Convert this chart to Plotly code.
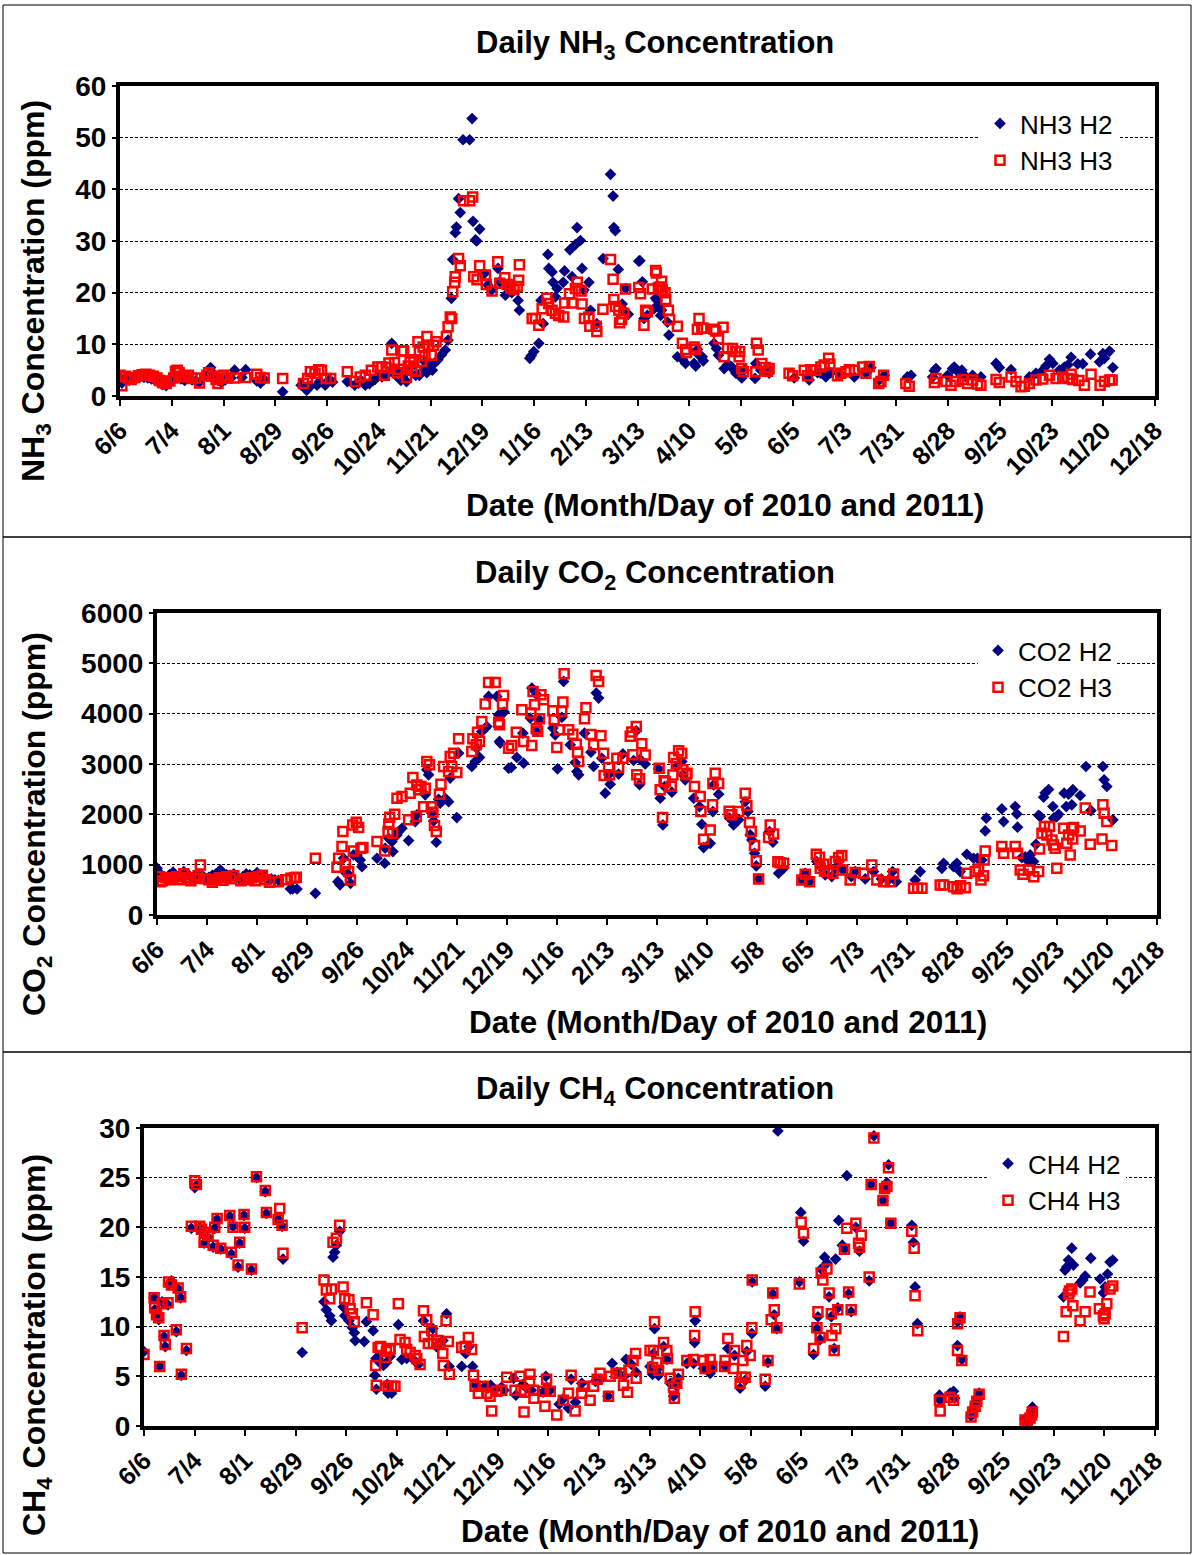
import pandas as pd
import plotly.graph_objects as go

W, H = 1193, 1555
START = "2010-06-06"
END = "2011-12-18"
FONT = "Liberation Sans, Arial, sans-serif"

# ---------------- data: (day offset from 6/6/2010, value) ----------------
NH3_H2 = [
    (0, 3.5), (1, 2.5), (3, 3.3), (5, 3.0), (7, 3.2), (9, 3.4), (11, 3.8), (13, 3.6), (15, 3.5), (17, 3.3),
    (19, 3.0), (21, 2.6), (23, 2.2), (25, 2.0), (27, 2.8), (29, 3.5), (31, 3.8), (33, 3.3), (35, 3.0), (37, 3.4),
    (39, 3.1), (41, 2.9), (43, 2.7), (47, 3.8), (49, 5.5), (51, 4.2), (53, 3.0), (55, 2.6), (57, 3.1), (60, 3.5),
    (62, 5.0), (66, 3.6), (68, 5.1), (74, 2.9), (76, 2.5), (78, 3.2), (88, 0.8), (98, 2.1), (101, 1.1), (103, 1.9),
    (106.6, 2.1), (108, 2.8), (111, 2.1), (113, 3.1), (115, 2.7), (123, 2.8), (127, 2.1), (129, 2.5), (131, 2.8),
    (132.7, 2.1), (135, 2.4), (137, 3.0), (138, 3.2), (140, 4.0),
    (141.7, 3.7), (144, 4.0), (147, 10.2), (148, 5.2), (149, 4.1), (150, 5.0), (152, 3.0), (153, 3.7), (155, 2.8),
    (156, 5.0), (158, 5.7), (160, 4.0), (162, 4.0), (164, 5.0), (165, 6.6), (166, 4.5), (167, 5.7), (168, 6.3),
    (169, 5.0), (170, 6.3), (172, 7.0), (174, 8.0),
    (176, 8.9), (177.5, 10.8), (179.3, 18.9), (180, 26.4), (181.4, 31.6), (182, 32.7), (183.2, 38.2), (184.1, 35.5),
    (185.6, 49.6), (189.2, 49.6), (190.5, 53.7), (191, 33.8), (192.3, 30.2), (193, 30.0), (194.6, 32.3), (197.1, 23.7),
    (199, 21.5), (201, 20.5), (204.5, 24.7), (205.5, 22.1), (208.5, 19.5), (210, 21.0), (212, 20.0), (215.4, 18.5),
    (216.1, 16.6), (221.7, 7.3), (222.5, 7.8), (223.9, 8.6), (226.6, 10.2), (227.8, 18.5), (229, 14.0), (231.5, 27.4),
    (232, 24.7), (233.8, 24.0), (234.3, 22.0), (235.6, 19.2), (236.5, 20.8), (239.8, 22.0), (240.5, 24.2),
    (243.4, 28.3), (244.6, 23.1), (246.4, 29.3), (247.3, 32.6), (249.1, 30.1), (250, 24.7), (251, 20.5),
    (253.7, 22.0), (254.6, 16.6), (258, 14.0), (261.4, 26.6), (265.4, 42.9), (266.8, 38.7), (267.2, 32.6),
    (268, 32.0), (269.6, 24.5), (271.7, 17.8), (272.5, 16.6), (273.5, 20.8), (275, 15.8), (280.7, 26.1),
    (281.3, 26.2), (282.6, 22.1), (283.5, 15.0), (285.3, 15.6), (289, 16.9), (289.8, 18.9), (290.7, 18.5),
    (292, 17.3), (292.5, 15.6), (293, 16.6), (296.2, 14.3), (297, 11.8), (301.6, 7.6), (304.3, 7.1), (306, 6.3),
    (310.6, 6.3), (311.5, 5.8), (312.4, 9.0), (313.3, 7.9), (315, 7.6), (315.6, 6.8), (321.4, 10.2), (322.7, 9.2),
    (323.8, 7.9), (326.9, 5.3), (328.6, 6.0), (330.5, 5.8), (332.3, 5.0), (333.2, 4.4), (336.4, 3.5), (337.7, 5.0),
    (343.6, 3.4), (344, 6.3), (346.7, 5.0), (349.4, 4.7), (351.2, 4.4), (364.8, 3.5), (372, 3.7), (372.9, 3.1),
    (377.4, 4.5), (379.2, 4.4), (381.9, 3.7), (384.6, 4.5), (389.2, 4.4), (397.3, 3.7), (403.6, 4.4), (406.3, 5.5),
    (410.8, 3.1), (413.5, 4.0),
    (426, 3.7), (428, 4.0), (439.7, 3.7), (440.6, 4.9), (441.5, 5.3), (447.8, 4.0), (450.5, 5.3), (451.4, 5.6),
    (454.1, 4.4), (455.5, 5.0), (457.7, 3.7), (461.3, 4.0), (465.8, 3.7), (474, 6.3), (475.8, 5.5), (482.1, 5.1),
    (492, 3.7), (495.6, 4.4), (499.3, 5.0), (501, 5.8), (502.9, 7.1), (504.7, 6.3), (508.3, 5.0), (511, 5.6),
    (512.8, 6.0), (514.6, 7.5), (518.2, 6.2), (520.9, 6.2), (525.1, 8.1), (530, 6.6), (531.8, 8.2), (532.7, 7.3),
    (535.4, 8.7), (537.2, 5.5),
]

NH3_H3 = [
    (0, 4.0), (1, 2.0), (3, 3.8), (4.5, 3.5), (6, 3.2), (8, 3.6), (10, 3.9), (12, 4.1), (14, 4.2), (16, 4.0),
    (18, 3.8), (20, 3.5), (21.5, 3.0), (23, 2.6), (25, 2.4), (27, 2.9), (29, 3.5), (30, 4.8), (31, 5.0), (32, 4.5),
    (33, 3.8), (35, 3.7), (37, 4.0), (39, 3.4), (41, 3.5), (43, 2.5), (47, 4.0), (48, 4.5), (50, 3.8), (52, 3.2),
    (53, 2.4), (55, 3.5), (56, 4.0), (58, 3.5), (62, 3.5), (68, 3.6), (74, 4.2), (76, 3.6), (78, 3.5), (88, 3.4),
    (99.3, 2.4), (101.5, 3.4), (103, 4.7), (105.5, 4.4), (107.5, 5.1), (109, 5.0), (111.5, 3.4), (114, 3.4),
    (123, 4.7), (127.3, 2.8), (130, 3.7), (132.7, 4.0), (136, 5.0), (139.5, 5.6),
    (141.7, 5.6), (143, 4.0), (144, 5.5), (145.5, 6.4), (147, 8.9), (148.5, 6.5), (150, 4.5), (151, 5.2),
    (152.5, 8.7), (153.5, 8.7), (155, 3.6), (156, 5.8), (157, 6.6), (158, 5.0), (159, 7.0), (160, 4.8),
    (161.2, 10.5), (162, 8.5), (163, 6.7), (164, 9.5), (165, 7.8), (166.1, 11.5), (167, 9.8), (168.4, 7.9),
    (169.7, 9.8), (171, 10.5),
    (176.6, 11.5), (177.5, 13.4), (178.7, 15.3), (179.5, 15.0), (180, 20.2), (181.1, 22.0), (181.4, 23.1),
    (183.2, 26.6), (184.1, 25.2), (185.9, 37.8), (189.2, 37.8), (190.8, 38.5), (191.4, 23.1), (193.2, 22.5),
    (194.6, 25.2), (197.7, 23.4), (198.2, 21.6), (201.3, 20.3), (204.4, 26.0), (205.5, 21.8), (208.2, 22.9),
    (209.5, 21.6), (211.4, 20.9), (213.2, 20.6), (214.9, 21.2), (215.7, 22.4), (216.1, 25.4), (223, 15.0),
    (224.8, 15.0), (226.6, 13.7), (228.4, 16.9), (231, 18.9), (231.9, 17.9), (233.8, 16.6), (235.6, 16.0),
    (237.4, 15.6), (240.1, 15.3), (240.6, 18.0), (244.6, 18.0), (247.4, 22.0), (243.2, 19.8), (246.4, 20.8),
    (249.5, 20.3), (250, 17.8), (251.3, 15.0), (253.7, 15.3), (254.2, 13.5), (257.6, 13.5), (258, 12.5),
    (261.3, 16.8), (265.4, 26.4), (266.8, 22.6), (267.2, 18.7), (268.1, 17.3), (269.9, 16.6), (272.6, 16.0),
    (271.4, 14.8), (270.3, 14.2), (273.5, 20.7), (280.7, 21.0), (281.6, 19.8),
    (283.5, 13.7), (284.4, 16.6), (285.3, 16.3), (288, 20.7), (289.8, 24.3), (290.2, 23.8), (291.3, 21.0),
    (292.5, 21.1), (293.4, 20.5), (293.1, 22.2), (294.9, 20.0), (295.3, 18.7), (296.7, 16.6), (297.4, 14.8),
    (301.6, 13.5), (304.3, 10.2), (306.1, 9.0), (306.5, 8.4), (310.6, 9.5), (311.5, 9.0), (312.4, 12.9),
    (313.3, 15.0), (314.8, 13.1), (315.7, 13.1), (321.4, 12.9), (322.3, 12.6), (323.8, 11.1), (326.3, 13.3),
    (326.9, 7.6), (328.7, 9.2), (331.4, 9.2), (333.2, 8.6), (335.3, 8.6), (335, 7.6), (336.4, 5.3), (337.3, 4.7),
    (344, 4.7), (344.4, 10.2), (345.3, 8.9), (347.3, 6.3), (349.1, 5.5), (350.3, 4.8), (351.2, 5.3), (362, 4.4),
    (363.9, 3.9), (370.2, 5.0), (372, 3.9), (373.8, 5.1), (376.5, 5.0), (379.2, 5.6), (381, 6.0), (383.4, 7.3),
    (384.1, 6.2), (388.2, 3.9), (390, 4.4), (392.8, 4.7), (394.6, 5.1), (397.3, 5.0), (401.8, 5.6), (405.4, 5.7),
    (403.6, 4.4), (410.5, 2.4), (411.7, 2.8), (413.2, 4.0),
    (425.2, 2.4), (427, 1.9), (440.6, 2.6), (441.5, 3.4), (446.9, 2.8), (449.6, 2.1), (452.3, 2.8), (455.9, 3.2),
    (458.6, 2.4), (461.3, 3.1), (464, 2.3), (465.8, 2.1), (474, 3.2), (475.8, 2.6), (482.1, 3.7), (484.8, 2.8),
    (487.5, 1.8), (489.3, 1.9), (492, 2.4), (495.6, 3.1), (499.3, 3.3), (502.9, 4.0), (506.5, 3.4), (510.1, 3.7),
    (512.8, 3.4), (514.6, 4.2), (515.5, 3.2), (518.8, 3.0), (521.8, 2.1), (525.4, 4.2), (530.3, 2.1), (532.7, 2.8),
    (535.4, 3.1), (536.8, 3.1),
]

CO2_H2 = [
    (0, 930), (1, 850), (3, 760), (5, 700), (7, 800), (9, 850), (11, 760), (13, 780), (15, 860), (17, 820),
    (19, 750), (21, 700), (23, 820), (25, 800), (27, 730), (29, 750), (31, 790), (33, 820), (35.5, 895), (37, 760),
    (39, 800), (41, 790), (43, 820), (46.6, 700), (48, 760), (50, 820), (52, 800), (54, 780), (56, 840), (58, 750),
    (60, 780), (62, 700), (64, 720), (66, 700), (68, 690), (74.7, 520), (76, 517), (78.4, 517), (88.7, 431),
    (101.3, 663), (102.5, 600), (104.5, 1127), (105, 862), (107.5, 796), (108.4, 630), (110, 1193), (112, 1193),
    (113.8, 1094), (114.8, 961), (123.2, 1127), (127.5, 1028), (127.8, 1326), (129.7, 1525), (131.6, 1459),
    (132.1, 1260), (134.4, 1591), (135.3, 1658), (137.2, 1724),
    (140.9, 1478), (144.6, 1856), (145.5, 1989), (150.2, 2387), (152.1, 2785), (151.1, 2884), (153.9, 2022),
    (154.9, 1870), (156.4, 1445), (157.7, 2300), (158.6, 2220), (161.4, 2320), (163.3, 2250), (164.2, 2720),
    (167.9, 1936), (168.9, 3215), (176.3, 2950), (178.2, 3050), (180.6, 3130), (179.1, 3315), (181.9, 3645),
    (183.8, 3710), (184.7, 3745), (185.7, 4343), (190.3, 4343), (191.3, 3978), (191.8, 3448), (192.2, 3415),
    (194.4, 4031), (196.9, 2917), (198.4, 2930), (201.5, 3130), (204.9, 3613), (205.3, 3017), (209, 3912),
    (209.9, 4508), (212.4, 3650), (212.7, 4375), (214.2, 3879), (221.7, 3713), (223, 3580), (224.3, 2904),
    (226.7, 3925), (227.7, 4641), (231.4, 3381), (234.2, 3030), (235.1, 2851), (236.1, 2785), (239.4, 3613),
    (243, 3235), (244.5, 2950), (246, 4409), (247.3, 4310), (249.1, 3116), (251, 2420), (252.9, 2785),
    (253.8, 2600), (258.5, 2800), (260.9, 3200), (266.9, 3070), (270.6, 3090), (270.2, 2590), (273.4, 3000),
    (268.4, 3660),
    (280.9, 2904), (281.8, 2320), (283.3, 1790), (284.2, 2553), (288.3, 2440), (291.1, 2950), (293.9, 3050),
    (295.8, 2685), (294.5, 2785), (300.5, 2320), (303.8, 2155), (305.1, 1803), (306.1, 1339), (309.8, 1425),
    (311.3, 2055), (311.7, 2585), (314.5, 2400), (320.6, 1923), (322.9, 1790), (325.7, 1890), (329.4, 2250),
    (330.9, 2055), (332.2, 1592), (333.1, 1492), (334.6, 1227), (335.6, 975), (336.9, 716), (343, 1658),
    (344.9, 1445), (348.1, 829), (350.9, 928), (361.1, 696), (363, 829), (365.4, 663), (369.5, 1061),
    (372.3, 928), (374.2, 796), (377.9, 763), (379.8, 928), (381.7, 1061), (384.1, 895), (388.8, 763),
    (391, 862), (396.6, 716), (401.3, 862), (405.7, 716), (409.7, 700), (411.9, 862), (414, 663),
    (424.6, 696), (427.4, 862), (439.5, 928), (440.5, 1028), (446.1, 960), (447.9, 1028), (449.8, 862),
    (453.5, 1207), (457.3, 1127), (459.5, 1127), (461.9, 1094), (463.8, 1671), (464.4, 1923), (473.1, 2108),
    (474.1, 1857), (480.6, 2155), (481.5, 2009), (481.9, 1744), (484.3, 1140), (486.2, 1154), (488, 1061),
    (489, 1194), (490, 1061), (490.9, 1061), (492.2, 1405), (493.7, 1982), (494.6, 1956), (496.5, 2340),
    (497.4, 2427), (499.3, 2493), (501.7, 2156), (502.1, 1923), (503.9, 1956), (504.9, 2002), (508, 2420),
    (510.5, 2400), (512.9, 2490), (509.2, 2155), (512.3, 2188), (517, 2374), (520.2, 2950), (523, 2075),
    (529.7, 2950), (530.4, 2685), (531.9, 2553), (535.3, 1890),
]

CO2_H3 = [
    (1.5, 762), (1.9, 663), (3, 680), (5, 740), (7, 700), (9, 720), (11, 760), (13, 700), (15, 820), (17, 740),
    (19, 680), (21, 730), (23, 780), (24.3, 995), (27, 720), (29, 700), (31, 650), (33, 700), (35, 740), (37, 690),
    (39, 760), (41, 720), (43, 780), (47, 680), (49, 720), (51, 700), (53, 740), (55, 680), (57, 760), (59, 790),
    (61, 700), (63, 650), (68, 660), (72, 700), (75, 730), (77, 740), (78, 750), (88.7, 1127), (100.8, 948),
    (101.7, 1127), (103.6, 1359), (104.1, 1658), (105.4, 1008), (107.3, 862), (108.3, 696), (109.6, 1790),
    (111.6, 1843), (112.9, 1737), (110, 1273), (114.2, 1326), (115.3, 1339), (123.2, 1459), (127.5, 1273),
    (129.4, 1658), (130.3, 1943), (129.8, 1810), (132, 1624), (133.1, 2002), (134.4, 2320), (137.2, 2354),
    (140.9, 1890), (145.2, 1956), (141.8, 2420), (143.3, 2730), (145.5, 2585), (147.8, 2553), (150.2, 2520),
    (146.5, 2486), (151.1, 3050), (152.6, 2984), (149.3, 2150), (153.6, 2150), (154.5, 2040), (155.4, 1777),
    (156.4, 1658), (158.2, 2400), (159, 2600), (160.5, 2950), (163.3, 2850), (165.1, 2950), (167.9, 2830),
    (164.2, 3150), (166.1, 3215), (168.9, 3500), (176.3, 3250), (176.9, 3500), (178.8, 3380), (179.5, 3630),
    (180.6, 3450), (181.9, 3845), (183.8, 4190), (185.7, 4620), (189.4, 4620), (191.3, 3830), (191.8, 3780),
    (193.5, 4190), (194.1, 4360), (196.9, 3315), (198.7, 3370), (201.2, 3630), (204.3, 4078), (205.3, 3448),
    (209.4, 4012), (209.9, 3370), (211.4, 4177), (210.6, 4440), (212.4, 3700), (213.2, 3650), (214.2, 3900),
    (215, 4375), (216.5, 4276), (221.7, 4058), (222.4, 3880), (223.9, 3330), (226.7, 4045), (227.3, 4230),
    (228, 4793), (225.2, 3680), (230.5, 3680), (232.9, 3590), (234.8, 3390), (235.5, 3235), (236.1, 3050),
    (239.4, 3900), (240.2, 4117), (243, 3585), (244.5, 3380), (248.6, 3560), (250.1, 3215), (245.9, 4760),
    (247.3, 4640), (250.4, 2771), (252.9, 2930), (253.4, 2785), (257.5, 3116), (258.5, 2930), (260.9, 3116),
    (265, 3549), (265.9, 3636), (268.4, 3745), (266.5, 3185), (271.5, 3400), (273.4, 3180), (268.7, 2785),
    (270.2, 2705),
    (281.2, 2917), (281.8, 2486), (283.1, 1936), (284, 2665), (284.6, 2645), (288, 2560), (288.9, 2780),
    (289.3, 3130), (290.8, 3010), (292.1, 3263), (293.9, 3210), (294.5, 2884), (296.4, 2785), (296.8, 2818),
    (301, 2552), (304.2, 2354), (304.6, 2055), (306.1, 1505), (309.8, 1690), (311.1, 2188), (311.3, 2612),
    (312.6, 2817), (314.5, 2612), (320.4, 2060), (321.9, 1990), (325.7, 2055), (329.4, 2420), (330.3, 2175),
    (331.8, 1837), (332.8, 1658), (334.6, 1379), (335.6, 1080), (336.9, 716), (342.5, 1538), (343.4, 1790),
    (345.3, 1611), (347.7, 1060), (349, 1040), (350.9, 1028), (361.1, 696), (363, 809), (365.4, 663),
    (369.2, 1207), (371, 1147), (371.4, 928), (373.3, 1008), (373.8, 875), (375.7, 875), (378.5, 829),
    (379.8, 1061), (381.7, 1140), (383.5, 1180), (384, 895), (388.2, 696), (391, 842), (395.7, 828),
    (400.3, 995), (403.1, 696), (406.9, 663), (410.6, 663), (412.5, 816),
    (423.7, 530), (426, 530), (428.4, 530), (438.6, 597), (440.5, 597), (446.1, 560), (448, 520), (450, 580),
    (452.6, 540), (453.5, 829), (458.2, 862), (460, 915), (461.4, 696), (462.9, 780), (463.8, 1273),
    (463.2, 1094), (473.1, 1359), (474.1, 1227), (480.6, 1359), (481.9, 1227), (483.4, 895), (485, 810),
    (488, 895), (491, 760), (493.7, 862), (494.2, 1312), (495.6, 1625), (497, 1757), (498.3, 1591),
    (499.8, 1757), (501.2, 1492), (502.1, 1392), (503, 1326), (503.9, 928), (507.7, 1724), (509.5, 1426),
    (510.5, 1591), (511.4, 1194), (512.3, 1724), (512.8, 1512), (513.3, 1737), (517, 1671), (519.8, 2127),
    (522.6, 1405), (529.2, 1512), (529.7, 2188), (530.4, 2022), (531.9, 1857), (534.7, 1379),
]

CH4_H2 = [
    (0, 7.5), (5.6, 12.9), (5.9, 11.7), (6.9, 11.3), (8.2, 10.7), (8.7, 6.0), (10, 12.5), (11.1, 9.0), (11.8, 8.0),
    (13.3, 12.2), (13.6, 14.2), (15.2, 14.6), (17.9, 9.5), (18.9, 13.8), (20.3, 12.9), (20.7, 5.1), (23.5, 7.6),
    (26.2, 19.9), (28.1, 24.0), (29, 24.2), (30.9, 20.0), (31.8, 19.7), (33.6, 19.2), (35.5, 19.0), (33.3, 18.4),
    (38.3, 18.0), (39.2, 19.9), (40.5, 20.8), (42.5, 17.8), (47.5, 21.1), (48.4, 17.3), (49.3, 20.1), (52.1, 16.0),
    (53, 18.4), (55.4, 21.2), (55.8, 19.9), (59.5, 15.7), (62.3, 25.0), (67.2, 23.6), (67.8, 21.4), (74.3, 20.8),
    (76.5, 20.1), (77, 16.8), (87.6, 7.4),
    (99.7, 12.5), (101, 11.7), (102.9, 11.1), (103.8, 10.6), (104.7, 17.0), (105.6, 17.5), (106.6, 18.2),
    (108.4, 19.6), (110.3, 12.0), (111.2, 11.1), (113.5, 10.6), (115.4, 9.9), (116.5, 9.4), (117, 8.6),
    (122, 8.5), (123.2, 10.5), (126.9, 9.6), (128.5, 6.8), (129.7, 6.8), (131.1, 6.3), (132.6, 6.1), (134.3, 6.4),
    (127.9, 5.1), (128.7, 3.7), (135.2, 3.3), (134.7, 4.2),
    (136.3, 7.0), (137.2, 3.3), (140.9, 10.2), (142.8, 6.7), (145.5, 6.8), (149.2, 6.7), (152, 6.2), (154.8, 10.6),
    (160, 9.8), (162, 8.0), (165.6, 8.6), (167.6, 11.3), (169, 6.0), (176, 6.0), (178.2, 7.3), (180, 8.0),
    (182, 6.0), (183.5, 4.1), (189, 4.0), (190.5, 3.8), (192, 4.1), (194, 3.6), (198, 3.9), (199.5, 3.6),
    (204.7, 4.8), (206, 3.1), (210, 4.2), (212, 3.8), (214.5, 3.6), (221, 3.4), (222.6, 5.0), (223.3, 3.9),
    (225, 3.6), (230, 2.2), (232, 2.7), (235, 1.8), (236.6, 4.7), (239, 2.4), (242.5, 4.3), (250, 4.5),
    (253, 4.7), (257, 3.0), (259.3, 6.3), (262, 5.4), (263.5, 5.2), (266, 5.0), (267, 6.7), (270, 6.2),
    (272.6, 5.4), (280.3, 6.0),
    (282.8, 9.8), (282.2, 7.3), (284.1, 5.7), (281.7, 5.2), (285, 5.1), (287.8, 8.0), (289.6, 6.7), (291.5, 4.3),
    (293.3, 3.0), (295.1, 4.0), (296, 4.8), (305.3, 10.6), (305, 8.4), (300.7, 6.3), (304.4, 6.3), (309.9, 5.8),
    (313.6, 5.3), (314.5, 5.8), (321.9, 6.0), (323.4, 7.8), (327.1, 7.1), (330.2, 3.8), (333, 4.6), (333.9, 7.5),
    (336.7, 9.3), (336.9, 14.5), (344.1, 4.0), (345.6, 6.4), (348.3, 13.3), (349.1, 11.2), (350.5, 9.8),
    (351.1, 29.7), (363, 14.5), (363.8, 21.5), (365.3, 18.6), (370.9, 7.2), (372.7, 9.8), (373.3, 11.0),
    (374.5, 8.7), (375.1, 15.8), (378.3, 16.4), (377, 17.0), (379.5, 13.0), (380.7, 11.0), (382.3, 7.8),
    (384.3, 11.9), (383.1, 16.8), (384.8, 20.7), (386.8, 18.2), (388, 17.8), (389.3, 25.2), (390.3, 13.3),
    (391.7, 11.5), (394.3, 20.0), (396.3, 17.6), (401.7, 14.6), (402.8, 24.3), (404.3, 29.2), (409.3, 22.7),
    (410.2, 23.9), (411.5, 24.5), (412.4, 26.3), (413.7, 20.4),
    (425.3, 20.2), (426.2, 18.5), (427.1, 14.0), (428.4, 10.3), (440.6, 3.1), (441, 2.6), (446.5, 3.3),
    (448.4, 3.5), (449, 2.8), (450.7, 10.5), (452, 11.0), (450.6, 8.1), (453, 6.7), (458.1, 1.0), (459, 1.6),
    (460.4, 2.1), (461.3, 2.6), (462.6, 3.3), (488, 0.7), (489.3, 0.4), (490.8, 1.0), (491.7, 1.3), (492.1, 1.9),
    (509.3, 13.0), (510.2, 15.7), (511.1, 16.0), (512.1, 16.7), (513, 16.3), (513.9, 17.9), (514.8, 16.2),
    (518.5, 14.4), (520, 14.7), (521.3, 15.1), (524.4, 16.9), (529.6, 14.8), (531.4, 13.4), (532.4, 14.0),
    (533.7, 15.3), (535.1, 16.5), (536.6, 16.7),
]

CH4_H3 = [
    (0, 7.2), (5.6, 12.9), (5.9, 11.9), (6.9, 11.2), (8.2, 10.9), (8.7, 6.0), (10, 12.3), (11.1, 9.1), (11.8, 8.2),
    (13.3, 12.4), (13.6, 14.5), (15.2, 14.2), (17.9, 9.7), (18.9, 13.9), (20.3, 13.0), (20.7, 5.2), (23.5, 7.8),
    (26.2, 20.1), (28.1, 24.7), (29, 24.3), (30.9, 20.1), (31.8, 19.8), (33.6, 19.5), (35.5, 19.2), (33.3, 18.5),
    (38.3, 18.2), (39.2, 20.0), (40.5, 20.9), (42.5, 17.9), (47.5, 21.2), (48.4, 17.5), (49.3, 20.0), (52.1, 16.2),
    (53, 18.5), (55.4, 21.3), (55.8, 20.0), (59.5, 15.8), (62.3, 25.1), (67.2, 23.7), (67.8, 21.5), (74.3, 20.8),
    (75.2, 21.9), (76.5, 20.2), (77, 17.4), (87.6, 9.9),
    (99.7, 14.7), (101, 13.7), (102.9, 12.8), (103.8, 13.8), (104.7, 18.5), (106.6, 18.9), (108.4, 20.2),
    (110.3, 14.0), (111.2, 12.8), (113.5, 12.7), (115.4, 11.3), (116.5, 10.5), (114.2, 11.8), (123.2, 12.4),
    (126.9, 11.2), (129.7, 7.9), (131.1, 8.0), (134.3, 7.5), (136.2, 7.7), (133.5, 6.9), (128.3, 6.1), (128.7, 4.1),
    (135.2, 4.0), (139, 4.0),
    (136.3, 7.8), (137.2, 4.0), (140.9, 12.3), (141.8, 8.7), (144.6, 8.4), (145.5, 7.7), (147.4, 7.4),
    (150.2, 7.1), (151.1, 6.8), (152.9, 6.2), (154.8, 11.6), (156.6, 10.7), (159.4, 9.6), (155.3, 9.0),
    (157.5, 8.3), (160.3, 8.3), (162.2, 8.6), (164, 8.3), (165.5, 7.3), (165.8, 6.1), (168.6, 8.5), (169.2, 5.2),
    (167.3, 10.6), (176, 7.9), (177.9, 8.0), (179.7, 8.9), (181.5, 7.7), (182.5, 5.1), (183.4, 4.0), (185.2, 3.3),
    (188, 4.0), (189.9, 3.3), (191.7, 3.0), (192.6, 1.5), (195.4, 3.5), (198.2, 3.6), (200.9, 4.9), (205.5, 3.6),
    (208.3, 5.0), (213.8, 5.2), (208.8, 3.6), (210.5, 1.4), (210.9, 3.4), (213.6, 4.5), (215.7, 3.6), (216, 2.8),
    (221.2, 3.5), (222.1, 2.0), (223, 4.7), (225, 3.5), (228.6, 1.1), (232.3, 2.6), (235.1, 3.3), (236.6, 5.1),
    (238.8, 1.5), (242.5, 3.3), (243.4, 4.0), (247.1, 2.6), (249, 4.0), (251, 4.7), (252.6, 5.3), (257.3, 3.0),
    (258.2, 5.0), (261.5, 5.3), (264.3, 5.3), (265.6, 4.1), (267.8, 3.4), (268.6, 5.6), (272.3, 7.3),
    (270.9, 6.6), (272.6, 4.8), (280.3, 7.6),
    (282.8, 10.5), (282.2, 7.6), (284.1, 6.4), (281.7, 5.9), (285, 5.6), (287.8, 8.4), (289.6, 7.6), (290, 6.8),
    (291.5, 4.8), (293.3, 3.9), (295.1, 4.3), (296, 5.2), (293.8, 2.8), (305.3, 11.5), (305, 9.1), (300.7, 6.6),
    (304.4, 6.7), (309.9, 6.6), (313.6, 6.7), (310.8, 5.8), (314.5, 6.0), (321.9, 6.6), (321.6, 6.0), (323.4, 8.8),
    (327.1, 7.6), (326.5, 5.8), (330.2, 4.3), (331.2, 4.9), (333, 4.9), (331.7, 6.6), (333.9, 8.1), (335.8, 7.1),
    (336.7, 9.9), (336.9, 14.7), (344.1, 4.7), (345.6, 6.6), (348.3, 13.4), (349.1, 11.7), (347.4, 10.7),
    (350.5, 9.9), (363, 14.3), (364, 20.5), (365.3, 19.4), (370.9, 7.8), (372.7, 9.9), (373.3, 11.5),
    (374.5, 8.9), (375.1, 15.4), (378.3, 15.8), (376, 14.7), (379.5, 13.4), (380.7, 11.3), (381, 9.1),
    (382.3, 7.6), (383.2, 9.8), (384.3, 11.7), (388, 17.8), (389.3, 19.9), (390.3, 13.5), (391.7, 11.7),
    (394.3, 20.4), (395.8, 18.4), (397.3, 19.2), (396.3, 18.0), (401.7, 15.0), (402.8, 24.3), (404.3, 29.0),
    (409.3, 22.7), (410.2, 23.9), (411.5, 24.1), (412.4, 26.0), (413.7, 20.4),
    (425.3, 19.6), (426.6, 17.9), (427.1, 13.1), (428.6, 9.6), (440.6, 2.6), (441, 1.5), (446.5, 2.9),
    (448.4, 2.6), (450.7, 10.3), (452, 10.9), (450.6, 7.6), (453, 6.6), (458.1, 0.9), (459, 1.4), (460.4, 2.0),
    (461.3, 2.5), (462.6, 3.2), (488, 0.6), (489.3, 0.3), (490.8, 0.8), (491.7, 1.1), (492.1, 1.4),
    (509.3, 9.0), (510.8, 11.5), (512.1, 13.3), (512.6, 13.6), (513.9, 13.8), (514.5, 12.1), (518.5, 10.6),
    (521.3, 11.5), (524, 13.5), (529.2, 11.8), (531.4, 11.1), (532.4, 11.3), (533.3, 12.3), (535.1, 13.8),
    (536.6, 14.1), (531.8, 10.8),
]

BASE = pd.Timestamp(START)


def xs(pairs):
    return [BASE + pd.Timedelta(days=float(d)) for d, _ in pairs]


def ys(pairs):
    return [v for _, v in pairs]


# panel geometry in pixels: (left, right, top, bottom)
PANELS = [
    dict(key="", box=(120, 1155, 86, 396), ymax=60, dtick=10, h2=NH3_H2, h3=NH3_H3,
         n2="NH3 H2", n3="NH3 H3", title="Daily NH<sub>3</sub> Concentration", title_y=45,
         ytitle="NH<sub>3</sub> Concentration (ppm)", ytitle_y=291, xtitle_y=505, xtitle_x=725,
         leg=(980, 100)),
    dict(key="2", box=(157, 1157, 613, 915), ymax=6000, dtick=1000, h2=CO2_H2, h3=CO2_H3,
         n2="CO2 H2", n3="CO2 H3", title="Daily CO<sub>2</sub> Concentration", title_y=575,
         ytitle="CO<sub>2</sub> Concentration (ppm)", ytitle_y=824, xtitle_y=1022, xtitle_x=728,
         leg=(978, 627)),
    dict(key="3", box=(144, 1155, 1128, 1426), ymax=30, dtick=5, h2=CH4_H2, h3=CH4_H3,
         n2="CH4 H2", n3="CH4 H3", title="Daily CH<sub>4</sub> Concentration", title_y=1091,
         ytitle="CH<sub>4</sub> Concentration (ppm)", ytitle_y=1345, xtitle_y=1531, xtitle_x=720,
         leg=(988, 1140)),
]

fig = go.Figure()
annotations = []
layout = {}

for p in PANELS:
    k = p["key"]
    xa, ya = "x" + k, "y" + k
    legname = "legend" + k
    l, r, t, b = p["box"]
    fig.add_trace(go.Scatter(
        x=xs(p["h2"]), y=ys(p["h2"]), mode="markers", name=p["n2"], xaxis=xa, yaxis=ya, legend=legname,
        marker=dict(symbol="diamond", size=9, color="#000080", line=dict(width=0)),
    ))
    fig.add_trace(go.Scatter(
        x=xs(p["h3"]), y=ys(p["h3"]), mode="markers", name=p["n3"], xaxis=xa, yaxis=ya, legend=legname,
        marker=dict(symbol="square-open", size=9, color="#FF0000", line=dict(width=2.5, color="#FF0000")),
    ))
    layout["xaxis" + k] = dict(
        domain=[l / W, r / W], anchor=ya, type="date", automargin=False,
        range=[START, END], tick0=START, dtick=28 * 86400000, tickformat="%-m/%-d",
        tickangle=-45, ticks="outside", ticklen=6, tickwidth=1.5, tickcolor="black",
        showline=True, linewidth=4, linecolor="black", mirror=True, showgrid=False, zeroline=False,
        tickfont=dict(family=FONT, size=25, color="black", weight="bold"),
    )
    layout["yaxis" + k] = dict(
        domain=[1 - b / H, 1 - t / H], anchor=xa, range=[0, p["ymax"]], dtick=p["dtick"], tickformat="d",
        automargin=False, ticks="outside", ticklen=4, tickwidth=1.5, tickcolor="black",
        showline=True, linewidth=4, linecolor="black", mirror=True,
        showgrid=True, gridcolor="black", gridwidth=1, griddash="3px,2px", zeroline=False,
        tickfont=dict(family=FONT, size=28, color="black", weight="bold"),
    )
    lx, ly = p["leg"]
    layout[legname] = dict(
        x=lx / W, y=1 - ly / H, xanchor="left", yanchor="top", bgcolor="white", borderwidth=0,
        font=dict(family=FONT, size=26, color="black"), itemwidth=30, tracegroupgap=0,
    )
    annotations.append(dict(
        text="<b>" + p["title"] + "</b>", x=655 / W, y=1 - p["title_y"] / H, xref="paper", yref="paper",
        showarrow=False, xanchor="center", yanchor="middle", font=dict(family=FONT, size=31, color="black"),
    ))
    annotations.append(dict(
        text="<b>Date (Month/Day of 2010 and 2011)</b>", x=p["xtitle_x"] / W, y=1 - p["xtitle_y"] / H,
        xref="paper", yref="paper", showarrow=False, xanchor="center", yanchor="middle",
        font=dict(family=FONT, size=31.5, color="black"),
    ))
    annotations.append(dict(
        text="<b>" + p["ytitle"] + "</b>", x=36 / W, y=1 - p["ytitle_y"] / H, textangle=-90,
        xref="paper", yref="paper", showarrow=False, xanchor="center", yanchor="middle",
        font=dict(family=FONT, size=32, color="black"),
    ))

shapes = []
for (y0, y1) in [(5, 537), (537, 1052), (1052, 1553)]:
    shapes.append(dict(type="rect", xref="paper", yref="paper", x0=3 / W, x1=1191 / W,
                       y0=1 - y1 / H, y1=1 - y0 / H, line=dict(color="black", width=1)))

fig.update_layout(
    width=W, height=H, margin=dict(l=0, r=0, t=0, b=0, pad=0, autoexpand=False),
    paper_bgcolor="white", plot_bgcolor="white", showlegend=True,
    annotations=annotations, shapes=shapes, **layout,
)

fig.write_html("out.html")
